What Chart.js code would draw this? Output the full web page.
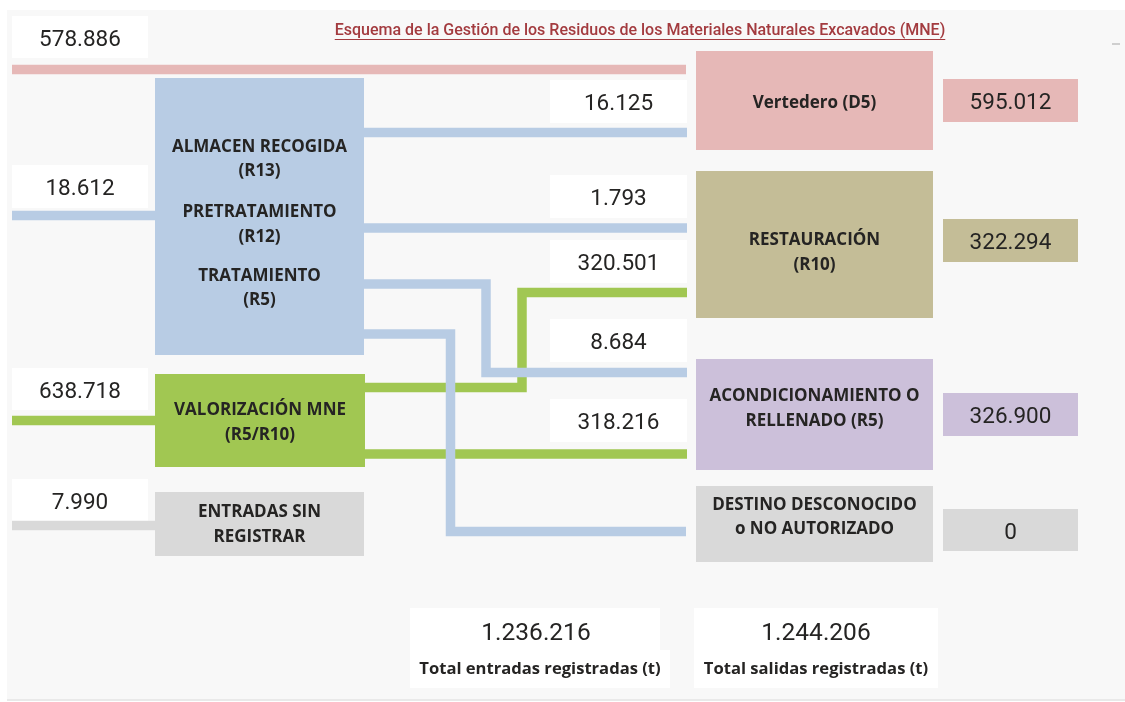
<!DOCTYPE html>
<html>
<head>
<meta charset="utf-8">
<script src="https://cdn.jsdelivr.net/npm/chart.js@4.4.1/dist/chart.umd.min.js"></script>
<style>
    html, body { margin: 0; padding: 0; background: #fff; }
    #esquema { display: block; }
</style>
</head>
<body>
<canvas id="esquema" width="1125" height="702"></canvas>
<script>
// Datos del esquema
const titulo = 'Esquema de la Gestión de los Residuos de los Materiales Naturales Excavados (MNE)';
const entradaValores = [578886, 18612, 638718, 7990];
const gestores = [
    ['ALMACEN RECOGIDA', '(R13)', 'PRETRATAMIENTO', '(R12)', 'TRATAMIENTO', '(R5)'],
    ['VALORIZACIÓN MNE', '(R5/R10)'],
    ['ENTRADAS SIN', 'REGISTRAR']
];
const flujoValores = [16125, 1793, 320501, 8684, 318216];
const destinos = [
    ['Vertedero (D5)'],
    ['RESTAURACIÓN', '(R10)'],
    ['ACONDICIONAMIENTO O', 'RELLENADO (R5)'],
    ['DESTINO DESCONOCIDO', 'o NO AUTORIZADO']
];
const destinoValores = [595012, 322294, 326900, 0];
const totalEtiquetas = ['Total entradas registradas (t)', 'Total salidas registradas (t)'];
const totalValores = [1236216, 1244206];

// Colores
const colores = {
    rosa: '#e6b8b7', azul: '#b8cce4', verde: '#a1c752', gris: '#d9d9d9',
    caqui: '#c4bd97', lila: '#ccc0da', texto: '#252423', titulo: '#a33b3f',
    fondo: '#f8f8f8', blanco: '#ffffff'
};

// Disposición (coordenadas de la página)
const cajasEntrada = [[12, 16, 148, 58], [12, 165, 148, 208], [12, 368, 148, 410], [12, 479, 148, 521]];
const cajasGestor = [
    { r: [155, 78, 364, 355], c: 'azul', ys: [145, 169, 210, 235, 274, 298] },
    { r: [155, 374, 365, 467], c: 'verde', ys: [408, 433] },
    { r: [155, 492, 364, 556], c: 'gris', ys: [510, 535] }
];
const cajasFlujo = [[550, 80, 687, 123], [550, 175, 687, 218], [550, 240, 687, 283], [550, 319, 687, 362], [550, 399, 687, 442]];
const cajasDestino = [
    { r: [696, 51, 933, 150], c: 'rosa', ys: [101] },
    { r: [696, 171, 933, 318], c: 'caqui', ys: [238, 263] },
    { r: [696, 359, 933, 470], c: 'lila', ys: [394, 419] },
    { r: [696, 486, 933, 562], c: 'gris', ys: [503, 527] }
];
const cajasDestinoValor = [[943, 79, 1078, 122], [943, 219, 1078, 262], [943, 393, 1078, 436], [943, 509, 1078, 551]];
const cajasTotal = [[410, 608, 668, 688], [694, 608, 938, 688]];

// Trazos de las conexiones
const rutas = [
    { c: 'rosa', p: [[12, 69.5], [686, 69.5]] },
    { c: 'azul', p: [[12, 215.5], [155, 215.5]] },
    { c: 'verde', p: [[12, 420.5], [155, 420.5]] },
    { c: 'gris', p: [[12, 525.5], [155, 525.5]] },
    { c: 'azul', p: [[364, 132.5], [687, 132.5]] },
    { c: 'azul', p: [[364, 228], [687, 228]] },
    { c: 'verde', p: [[365, 387.5], [522, 387.5], [522, 292.5], [687, 292.5]] },
    { c: 'azul', p: [[364, 284], [486, 284], [486, 372.5], [687, 372.5]] },
    { c: 'verde', p: [[365, 454], [687, 454]] },
    { c: 'azul', p: [[364, 334], [450.5, 334], [450.5, 531.5], [686, 531.5]] }
];

function formato(n) {
    return String(n).replace(/\B(?=(\d{3})+(?!\d))/g, '.');
}

const fuenteNum = 'Roboto, "DejaVu Sans Condensed", sans-serif';
const fuenteEtiqueta = '"Open Sans", "Noto Sans", sans-serif';

const dibujoEsquema = {
    id: 'dibujoEsquema',
    beforeDatasetsDraw(chart) {
        const ctx = chart.ctx;
        const X = v => chart.scales.x.getPixelForValue(v);
        const Y = v => chart.scales.y.getPixelForValue(v);
        const caja = (r, color) => {
            ctx.fillStyle = color;
            ctx.fillRect(X(r[0]), Y(r[1]), X(r[2]) - X(r[0]), Y(r[3]) - Y(r[1]));
        };
        ctx.save();
        ctx.fillStyle = colores.blanco;
        ctx.fillRect(0, 0, chart.width, chart.height);
        caja([7, 10, 1125, 699], colores.fondo);
        caja([7, 699, 1125, 701], '#e9e9e9');
        caja([1112, 43, 1120, 45], '#cfcfcf');

        cajasEntrada.forEach(r => caja(r, colores.blanco));
        cajasGestor.forEach(g => caja(g.r, colores[g.c]));
        cajasFlujo.forEach(r => caja(r, colores.blanco));
        cajasDestino.forEach(d => caja(d.r, colores[d.c]));
        cajasDestinoValor.forEach((r, i) => caja(r, colores[cajasDestino[i].c]));
        caja([410, 608, 660, 650], colores.blanco);
        caja([410, 650, 670, 688], colores.blanco);
        caja(cajasTotal[1], colores.blanco);
        ctx.restore();
    },
    afterDatasetsDraw(chart) {
        const ctx = chart.ctx;
        const X = v => chart.scales.x.getPixelForValue(v);
        const Y = v => chart.scales.y.getPixelForValue(v);
        const texto = (t, x, y, font, color) => {
            ctx.font = font;
            ctx.fillStyle = color || colores.texto;
            ctx.fillText(t, X(x), Y(y));
        };
        const centro = r => (r[0] + r[2]) / 2;
        const medio = r => (r[1] + r[3]) / 2 + 3;
        ctx.save();
        ctx.textAlign = 'center';
        ctx.textBaseline = 'middle';

        // titulo subrayado
        const fTit = '500 16px ' + fuenteNum;
        ctx.font = fTit;
        const w = ctx.measureText(titulo).width;
        texto(titulo, 640, 31, fTit, colores.titulo);
        ctx.strokeStyle = colores.titulo;
        ctx.lineWidth = 1;
        ctx.beginPath();
        ctx.moveTo(X(640) - w / 2, Y(39.5));
        ctx.lineTo(X(640) + w / 2, Y(39.5));
        ctx.stroke();

        const fNum = '22.5px ' + fuenteNum;
        const fEtq = 'bold 17px ' + fuenteEtiqueta;
        entradaValores.forEach((v, i) => texto(formato(v), centro(cajasEntrada[i]), medio(cajasEntrada[i]), fNum));
        flujoValores.forEach((v, i) => texto(formato(v), centro(cajasFlujo[i]), medio(cajasFlujo[i]), fNum));
        destinoValores.forEach((v, i) => texto(formato(v), centro(cajasDestinoValor[i]), medio(cajasDestinoValor[i]), fNum));
        gestores.forEach((lineas, i) => lineas.forEach((t, j) => texto(t, centro(cajasGestor[i].r), cajasGestor[i].ys[j] + 2, fEtq)));
        destinos.forEach((lineas, i) => lineas.forEach((t, j) => texto(t, centro(cajasDestino[i].r), cajasDestino[i].ys[j] + 2, fEtq)));
        totalValores.forEach((v, i) => {
            const cx = i === 0 ? 536 : 816;
            texto(formato(v), cx, 634, '24.5px ' + fuenteNum);
            texto(totalEtiquetas[i], i === 0 ? 540 : 816, 669, 'bold 16.6px ' + fuenteEtiqueta);
        });
        ctx.restore();
    }
};

const datasets = rutas.map(ruta => ({
    data: ruta.p.map(([x, y]) => ({ x, y })),
    showLine: true,
    borderColor: colores[ruta.c],
    borderWidth: 9.5,
    borderJoinStyle: 'miter',
    borderCapStyle: 'butt',
    pointRadius: 0,
    tension: 0,
    fill: false,
    // las lineas azules van encima de las verdes
    order: ruta.c === 'azul' ? 1 : 2
}));

new Chart(document.getElementById('esquema').getContext('2d'), {
    type: 'scatter',
    data: { datasets },
    options: {
        responsive: false,
        animation: false,
        devicePixelRatio: 1,
        layout: { padding: 0 },
        plugins: { legend: { display: false }, tooltip: { enabled: false } },
        scales: {
            x: { type: 'linear', min: 0, max: 1125, display: false },
            y: { type: 'linear', min: 0, max: 702, reverse: true, display: false }
        }
    },
    plugins: [dibujoEsquema]
});
</script>
</body>
</html>
